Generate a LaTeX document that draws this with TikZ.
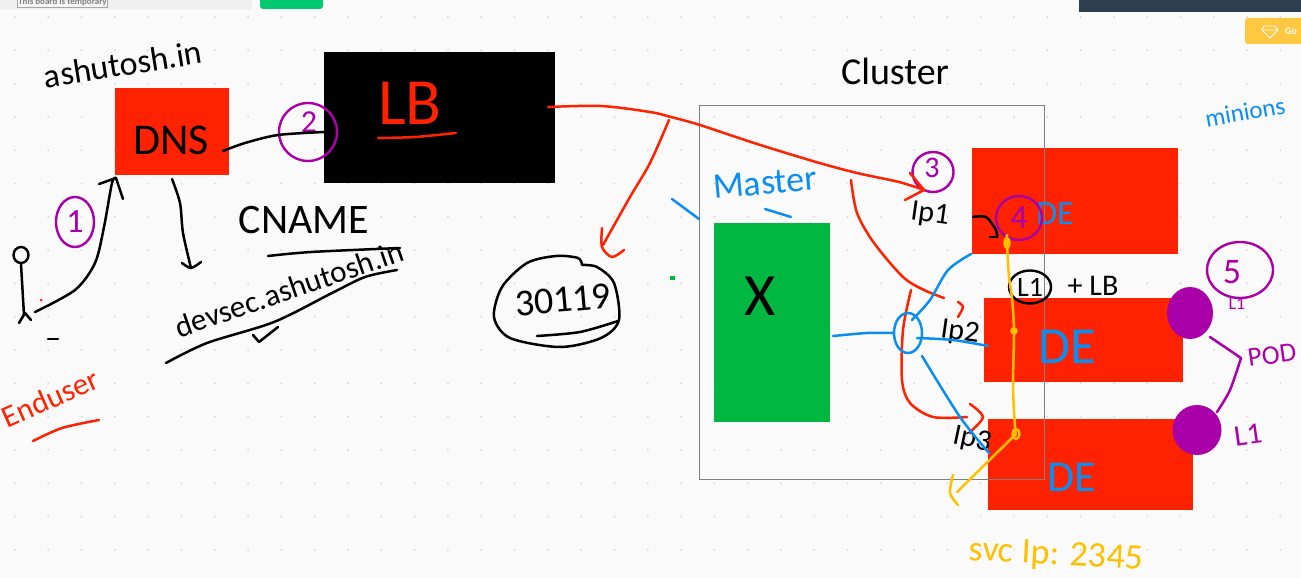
\documentclass[tikz,border=0pt]{standalone}
\usepackage{fontspec}
\setmainfont{Carlito}
\usetikzlibrary{shapes.geometric}
\definecolor{wbPaper}{HTML}{FAFAFA}
\definecolor{wbDot}{HTML}{DCDCDC}
\definecolor{wbRed}{HTML}{FF2200}
\definecolor{wbGreen}{HTML}{00B742}
\definecolor{wbBlue}{HTML}{0A8FF0}
\definecolor{wbPurple}{HTML}{AA00AA}
\definecolor{wbYellow}{HTML}{FFC000}
\definecolor{wbFrame}{HTML}{808080}
\definecolor{wbSlate}{HTML}{2E4050}
\definecolor{wbGold}{HTML}{FFC840}
\definecolor{wbMint}{HTML}{00C86F}
\tikzset{
  hand/.style      ={inner sep=0pt,font=\fontsize{#1}{#1}\selectfont},
  rectbox/.style   ={inner sep=0pt,outer sep=0pt},
  podball/.style   ={ellipse,fill=wbPurple,inner sep=0pt},
  ring/.style      ={ellipse,draw=wbPurple,line width=2.4pt,inner sep=0pt},
  blackring/.style ={ellipse,draw=black,line width=2.4pt,inner sep=0pt},
  pen/.style       ={line width=2.5pt,line cap=round,line join=round},
  blackpen/.style  ={pen,black},
  redpen/.style    ={pen,wbRed},
  bluepen/.style   ={pen,wbBlue},
  purplepen/.style ={pen,wbPurple},
  yellowpen/.style ={pen,wbYellow},
}
\begin{document}
\begin{tikzpicture}[x=1pt,y=-1pt]
\useasboundingbox (0,0) rectangle (1301,578);
\fill[wbPaper] (0,0) rectangle (1301,578);
\foreach \i in {0,...,38}
  \foreach \j in {0,...,16}
    \fill[wbDot] (15+\i*33.3,17+\j*33.3) circle[radius=1.2];

% board chrome
\node[rectbox,rounded corners=3pt,draw=black!15,fill=black!6,minimum width=254,minimum height=14,anchor=south west] (boardbar) at (-3,9) {};
\node[draw=black!35,line width=0.5pt,fill=black!4,inner sep=1pt,text=black!50,font=\fontsize{9}{9}\bfseries\selectfont,anchor=south west] (boardnote) at (17,7.5) {This board is temporary};
\node[rectbox,rounded corners=3pt,fill=wbMint,minimum width=63,minimum height=14,anchor=south west] (boardbtn) at (260,9) {};
\node[rectbox,fill=wbSlate,minimum width=225,minimum height=16,anchor=south west] (panel) at (1079,12) {};
\node[rectbox,rounded corners=3pt,fill=wbGold,minimum width=60,minimum height=26,anchor=north west] (gobtn) at (1245,18) {};
\node[text=white,font=\fontsize{10}{10}\bfseries\selectfont,anchor=west,inner sep=0pt] (gotext) at (1285,31.5) {Go};
\draw[white,line width=0.8pt] (1264,26) -- (1275,26) -- (1278,30) -- (1270,38) -- (1262,30) -- cycle (1262,30) -- (1278,30);

% boxes
\node[rectbox,fill=wbRed,minimum width=114,minimum height=87,anchor=north west] (dnsbox) at (115,88) {};
\node[rectbox,fill=black,minimum width=231,minimum height=131,anchor=north west] (lbbox) at (324,52) {};
\node[rectbox,fill=wbRed,minimum width=206,minimum height=106,anchor=north west] (debox1) at (972,148) {};
\node[rectbox,fill=wbRed,minimum width=199,minimum height=84,anchor=north west] (debox2) at (984,298) {};
\node[rectbox,fill=wbRed,minimum width=205,minimum height=91,anchor=north west] (debox3) at (988,419) {};
\node[rectbox,fill=wbGreen,minimum width=116,minimum height=199,anchor=north west] (masterbox) at (714,223) {};
\node[rectbox,draw=wbFrame,line width=1pt,minimum width=345,minimum height=374,anchor=north west] (clusterbox) at (699,105) {};
\node[podball,minimum width=46,minimum height=52] (podA) at (1190,313) {};
\node[podball,minimum width=49,minimum height=50] (podB) at (1197,430) {};

% box texts
\node[hand=44] (dnslbl) at (171,140) {DNS};
\node[hand=66,text=wbRed] (lblbl) at (410,103) {LB};
\node[hand=60] (xlbl) at (760,296) {X};
\node[hand=34,text=wbBlue] (delbl1) at (1055,214) {DE};
\node[hand=52,text=wbBlue] (delbl2) at (1067,347) {DE};
\node[hand=44,text=wbBlue] (delbl3) at (1072,477) {DE};

% free labels
\node[hand=34,rotate=9] (domainlbl) at (123,64) {ashutosh.in};
\node[hand=42] (cnamelbl) at (304,220) {CNAME};
\node[hand=31,rotate=19] (devseclbl) at (289,289) {devsec.ashutosh.in};
\node[hand=38,rotate=5] (portlbl) at (563,300) {30119};
\node[hand=31,text=wbRed,rotate=24] (userlbl) at (50,398) {Enduser};
\node[hand=38] (clusterlbl) at (895,71) {Cluster};
\node[hand=36,text=wbBlue,rotate=5] (masterlbl) at (765,183) {Master};
\node[hand=30,rotate=-8] (iplbl1) at (930,215) {Ip1};
\node[hand=30,rotate=-8] (iplbl2) at (960,333) {Ip2};
\node[hand=30,rotate=-12] (iplbl3) at (972,440) {Ip3};
\node[hand=30] (lblus) at (1093,286) {+ LB};
\node[hand=25,text=wbBlue,rotate=10] (minionlbl) at (1245,112) {minions};
\node[hand=27,text=wbPurple,rotate=8] (podlbl) at (1272,355) {POD};
\node[hand=30,text=wbPurple,rotate=8] (podname) at (1248,435) {L1};
\node[hand=18,text=wbPurple] (podnameB) at (1237,304) {L1};
\node[hand=36,text=wbYellow,rotate=-3] (svclbl) at (1056,556) {svc Ip: 2345};

% numbered rings
\node[ring,minimum width=38,minimum height=50,hand=34,text=wbPurple] (stepA) at (75,222) {1};
\node[ring,minimum width=58,minimum height=58] (stepB) at (308,132) {};
\node[hand=32,text=wbPurple] (stepBnum) at (309,122) {2};
\node[ring,minimum width=41,minimum height=40] (stepC) at (933,172) {};
\node[hand=30,text=wbPurple] (stepCnum) at (932,168) {3};
\node[ring,minimum width=46,minimum height=44,hand=34,text=wbPurple] (stepD) at (1019,218) {4};
\node[ring,minimum width=66,minimum height=56] (stepE) at (1240,270) {};
\node[hand=36,text=wbPurple] (stepEnum) at (1232,272) {5};
\node[blackring,minimum width=42,minimum height=33,hand=28] (linode) at (1030,287) {L1};

% end user
\node[blackring,minimum width=15,minimum height=16] (userhead) at (21,255) {};
\coordinate (userfoot) at (24,315);
\draw[blackpen] (userhead.south) -- (userfoot);
\draw[blackpen] (19,323) -- (25,313) -- (31,320);
\draw[blackpen] (48,339) -- (58,339);
\fill[wbRed] (41,300) circle[radius=1.5];

% user to dns
\coordinate (userout) at (35,312);
\coordinate (dnsin) at (116,178);
\draw[blackpen] plot[smooth] coordinates {(userout) (75,290) (95,263) (104,227) (112,183) (dnsin)};
\draw[blackpen] (99,184) -- (dnsin) -- (123,199);

% dns to the others
\coordinate (dnsdown) at (172,179);
\coordinate (dnstail) at (191,268);
\draw[blackpen] plot[smooth] coordinates {(dnsdown) (180,203) (183,233) (dnstail)};
\draw[blackpen] plot[smooth] coordinates {(182,263) (dnstail) (201,262)};
\coordinate (dnsout) at (223,151);
\draw[blackpen] plot[smooth] coordinates {(dnsout) (245,143) (278,135) (lbbox.west |- 0,132)};

% underlines
\draw[blackpen] plot[smooth] coordinates {(268,256) (311,252) (400,248)};
\draw[blackpen] plot[smooth] coordinates {(166,363) (207,343) (274,322) (332,293) (365,277) (397,270)};
\draw[blackpen] (253,335) -- (259,342) -- (278,327);
\draw[redpen] plot[smooth] coordinates {(33,441) (62,428) (99,420)};
\draw[redpen] plot[smooth] coordinates {(378,138) (415,137) (456,133)};
\draw[bluepen] (765,209) -- (791,217);
\draw[bluepen] (672,199) -- (699,219);
\fill[wbGreen] (670,276) rectangle (675,280);

% port blob
\draw[blackpen] plot[smooth] coordinates {(582,265) (578,258) (556,256) (527,263) (502,287) (494,317) (510,338) (560,347) (601,338) (619,320) (614,283) (597,267) (582,265)};
\draw[blackpen] plot[smooth] coordinates {(537,336) (580,332) (618,321)};

% lb to the cluster
\coordinate (lbout) at (548,107);
\coordinate (ipin) at (924,190);
\draw[redpen] plot[smooth] coordinates {(lbout) (601,106) (650,112) (671,117) (700,125) (754,143) (816,162) (857,173) (899,182) (ipin)};
\draw[redpen] (910,173) -- (ipin) -- (905,200);
\coordinate (lbdown) at (669,120);
\coordinate (portin) at (603,245);
\draw[redpen] plot[smooth] coordinates {(lbdown) (650,163) (630,197) (portin)};
\draw[redpen] plot[smooth] coordinates {(602,228) (602,247) (612,257) (624,250)};

% red strokes in the cluster
\draw[redpen] plot[smooth] coordinates {(851,180) (857,213) (874,243) (903,277) (924,290) (944,298)};
\coordinate (ipinC) at (967,417);
\draw[redpen] plot[smooth] coordinates {(911,290) (903,330) (902,380) (910,403) (933,417) (ipinC)};
\draw[redpen] plot[smooth] coordinates {(970,404) (983,417) (970,432)};
\draw[redpen] plot[smooth] coordinates {(958,302) (963,307) (958,317)};

% master to the minions
\node[ellipse,draw=wbBlue,line width=2.5pt,minimum width=28,minimum height=40,inner sep=0pt] (svchub) at (908,333) {};
\coordinate (masterout) at (833,336);
\draw[bluepen] plot[smooth] coordinates {(masterout) (867,333) (svchub.west)};
\coordinate (hubA) at (912,320);
\coordinate (hubB) at (917,338);
\coordinate (hubC) at (922,356);
\coordinate (deA) at (971,254);
\coordinate (deB) at (988,346);
\coordinate (deC) at (989,453);
\draw[bluepen] plot[smooth] coordinates {(hubA) (930,300) (948,270) (deA)};
\draw[bluepen] plot[smooth] coordinates {(hubB) (953,340) (deB)};
\draw[bluepen] plot[smooth] coordinates {(hubC) (960,417) (deC)};

% black hook
\draw[blackpen] plot[smooth] coordinates {(973,217) (986,217) (996,230) (997,237)};
\draw[blackpen] (990,237) -- (997,237);

% yellow path
\coordinate (svcA) at (1007,243);
\coordinate (svcB) at (1014,331);
\coordinate (svcC) at (1016,434);
\coordinate (svcout) at (957,492);
\draw[yellowpen] plot[smooth] coordinates {(1007,235) (svcA) (1009,277) (1012,298) (svcB) (1013,387) (1015,427) (svcC)};
\draw[yellowpen] (svcC) -- (svcout);
\draw[yellowpen] plot[smooth] coordinates {(953,475) (950,493) (958,505)};
\draw[yellowpen] (svcA) circle[x radius=2.5,y radius=5];
\draw[yellowpen] (svcB) circle[radius=2.5];
\draw[yellowpen] (svcC) circle[x radius=3.5,y radius=5];

% pod brace
\coordinate (braceA) at (1210,337);
\coordinate (braceB) at (1217,412);
\draw[purplepen] (braceA) -- (1241,358);
\draw[purplepen] plot[smooth] coordinates {(1241,358) (1230,390) (braceB)};
\end{tikzpicture}
\end{document}
